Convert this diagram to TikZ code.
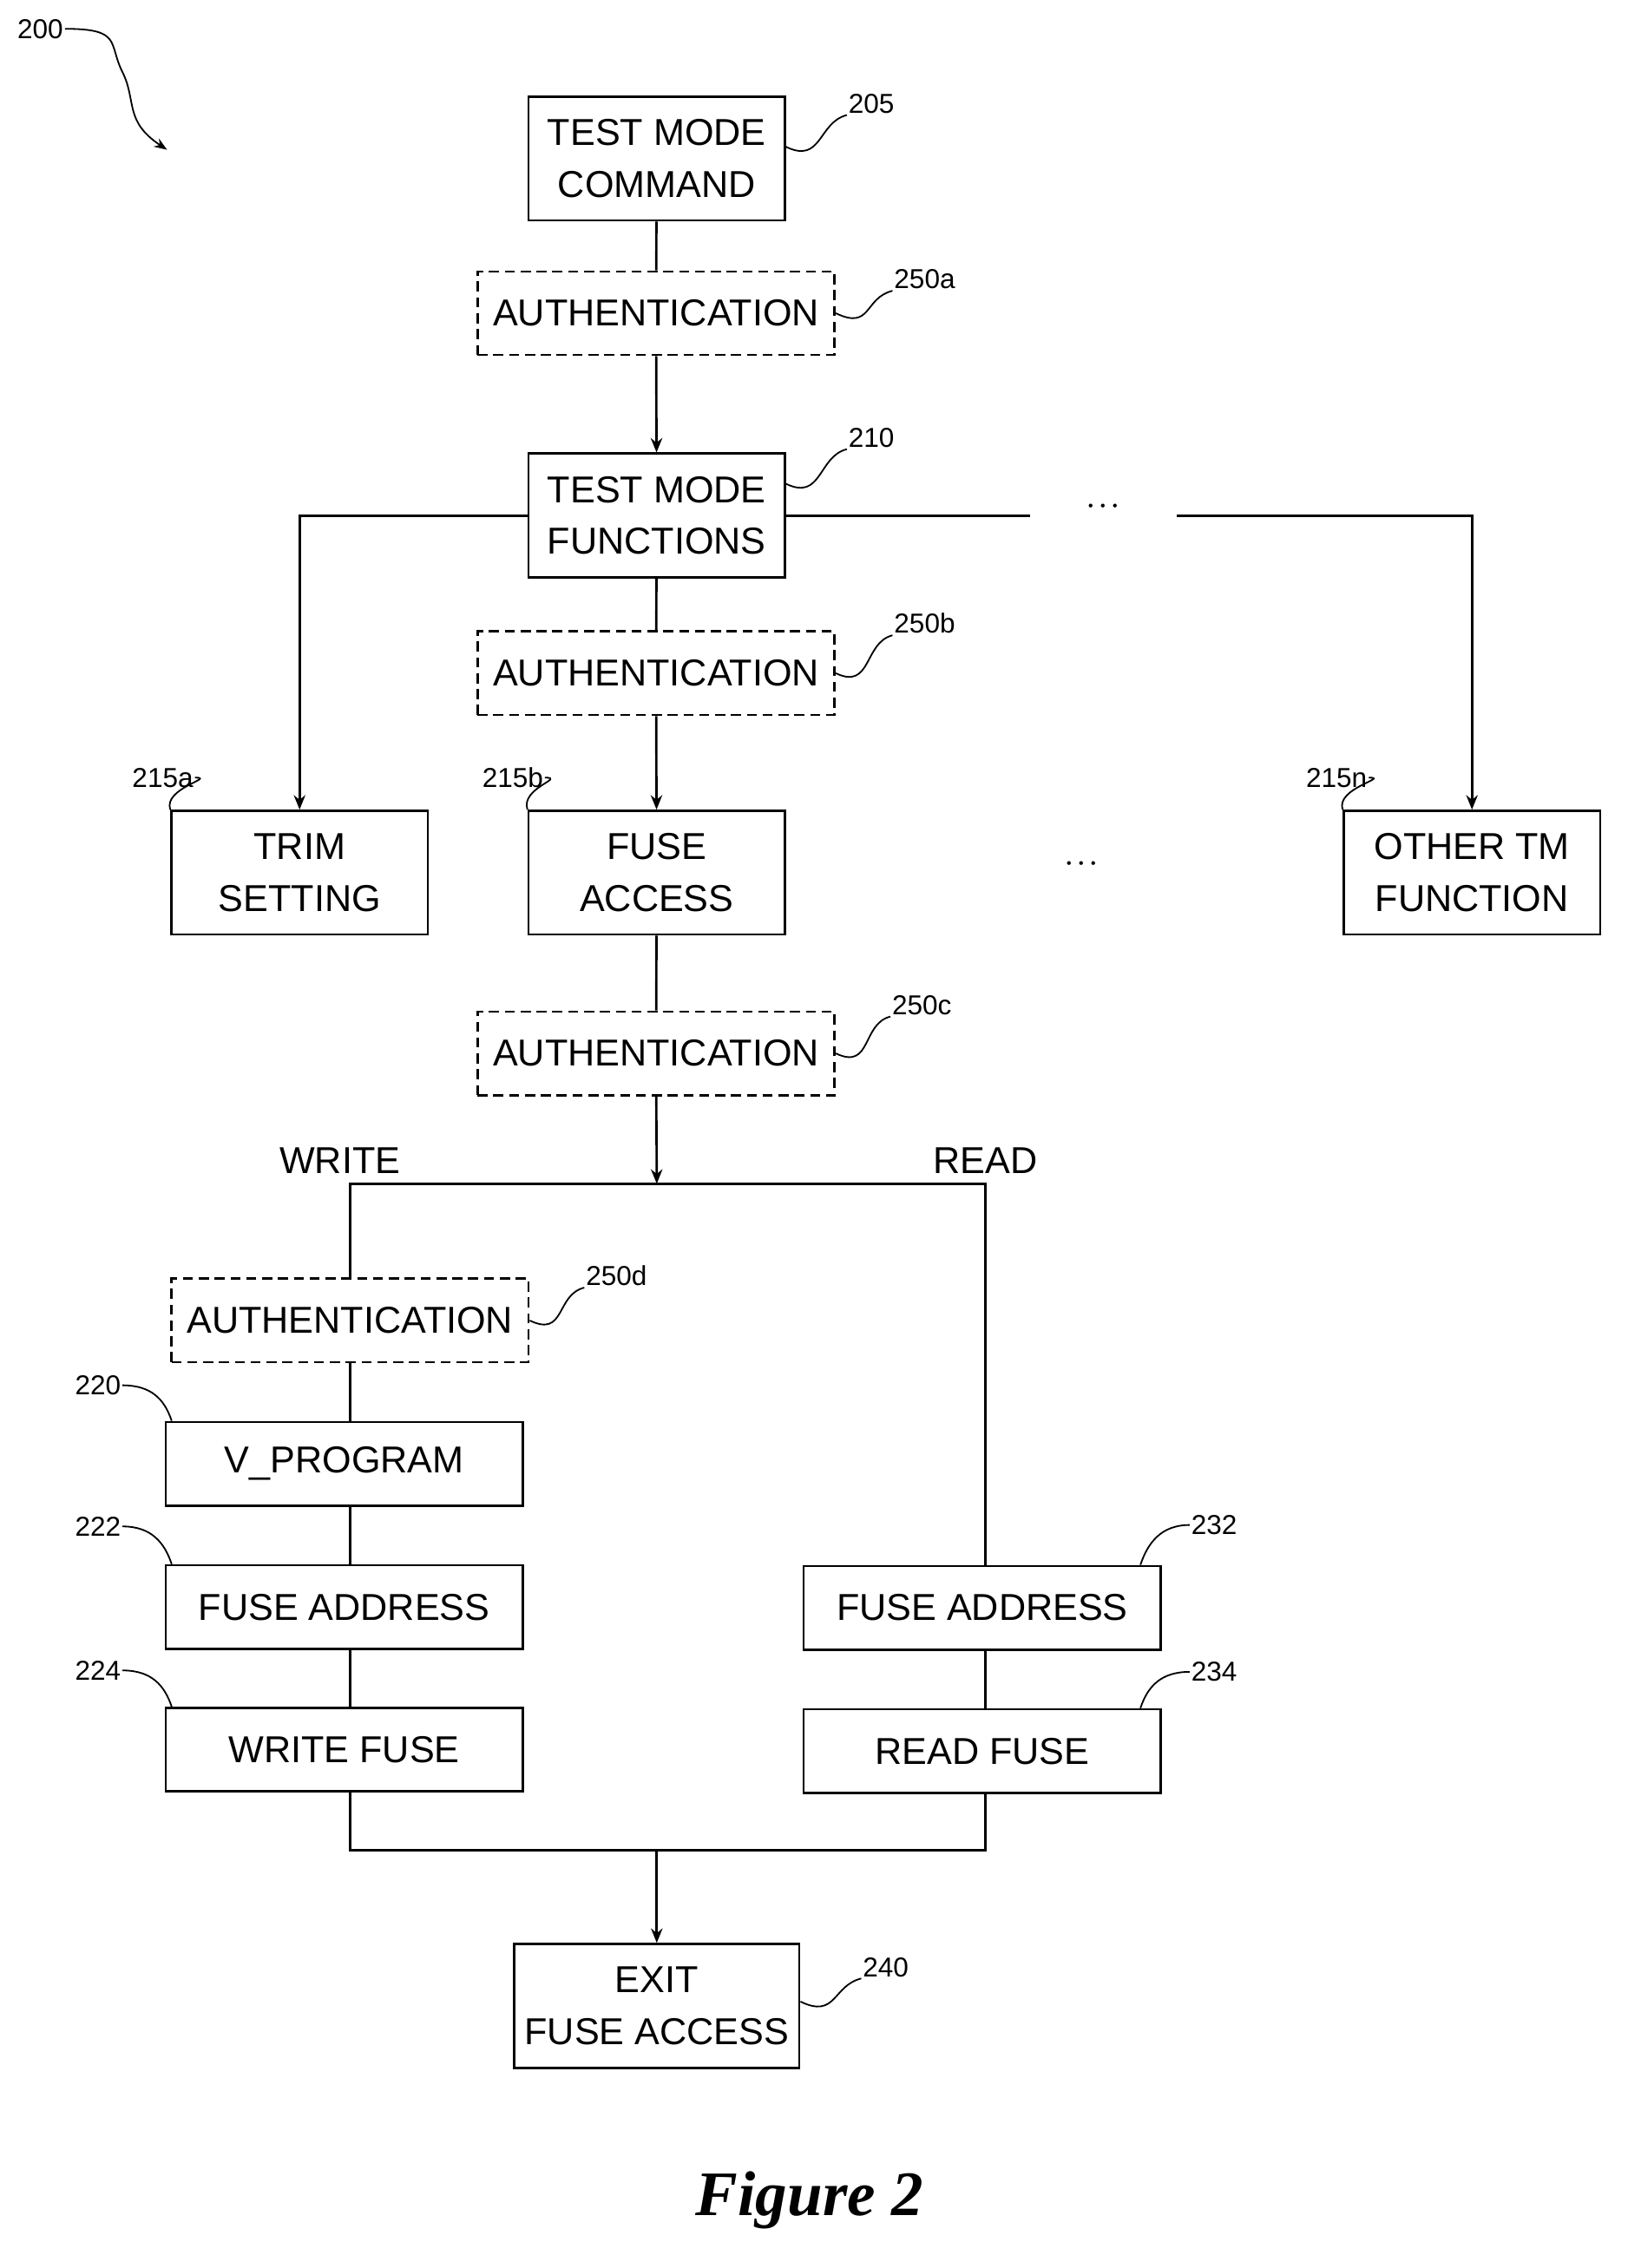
\documentclass[tikz,border=0pt]{standalone}
\usepackage{fontspec}
\setmainfont{Liberation Sans}
\newfontfamily\figfont{Liberation Serif}
\usetikzlibrary{arrows.meta}
\begin{document}
\begin{tikzpicture}[x=1pt,y=-1pt,
  box/.style={draw,line width=1.6pt,minimum height=86pt,align=center,font=\fontsize{26}{36}\selectfont,inner sep=0pt},
  sbox/.style={draw,line width=1.6pt,minimum height=58pt,minimum width=248pt,align=center,font=\fontsize{26}{30}\selectfont,inner sep=0pt},
  auth/.style={sbox,dash pattern=on 7pt off 4pt},
  lab/.style={font=\fontsize{19}{22}\selectfont,inner sep=1pt},
  ln/.style={line width=1.6pt},
  ar/.style={ln,-{Stealth[length=10pt,width=8pt]}},
  lead/.style={line width=1.1pt}]
\useasboundingbox (0,0) rectangle (1130,1575);
\node[box,minimum width=178pt] (b205) at (456,110) {TEST MODE\\COMMAND};
\node[auth] (a250a) at (455.5,217.5) {AUTHENTICATION};
\node[box,minimum width=178pt] (b210) at (456,358) {TEST MODE\\FUNCTIONS};
\node[auth] (a250b) at (455.5,467.5) {AUTHENTICATION};
\node[box,minimum width=178pt] (b215a) at (208,606) {TRIM\\SETTING};
\node[box,minimum width=178pt] (b215b) at (456,606) {FUSE\\ACCESS};
\node[box,minimum width=178pt] (b215n) at (1022,606) {OTHER TM\\FUNCTION};
\node[font=\fontsize{26}{30}\selectfont] (dots2) at (751,600) {$\cdot\!\cdot\!\cdot$};
\node[auth] (a250c) at (455.5,731.5) {AUTHENTICATION};
\node[auth] (a250d) at (243,917) {AUTHENTICATION};
\node[sbox] (b220) at (239,1016.5) {V\_PROGRAM};
\node[sbox] (b222) at (239,1116) {FUSE ADDRESS};
\node[sbox] (b224) at (239,1215) {WRITE FUSE};
\node[sbox] (b232) at (682,1116.5) {FUSE ADDRESS};
\node[sbox] (b234) at (682,1216) {READ FUSE};
\node[box,minimum width=198pt] (b240) at (456,1393) {EXIT\\FUSE ACCESS};
\node[font=\fontsize{26}{30}\selectfont] (tw) at (236,806) {WRITE};
\node[font=\fontsize{26}{30}\selectfont] (tr) at (684,806) {READ};
\node[font=\figfont\bfseries\itshape\fontsize{44}{50}\selectfont] (fig) at (562,1528) {Figure 2};
% connectors
\draw[ln] (b205) -- (a250a);
\draw[ar] (a250a) -- (b210);
\draw[ln] (b210) -- (a250b);
\draw[ar] (a250b) -- (b215b);
\draw[ar] (b210.west) -| (b215a.north);
\coordinate (dl) at (715,358);
\coordinate (dr) at (817,358);
\node[font=\fontsize{26}{30}\selectfont] (dots1) at (766,352) {$\cdot\!\cdot\!\cdot$};
\draw[ln] (b210.east) -- (dl);
\draw[ar] (dr) -| (b215n.north);
\draw[ln] (b215b) -- (a250c);
\coordinate (jw) at (243,822);
\coordinate (jr) at (684,822);
\coordinate (jm) at (456,822);
\draw[ar] (a250c) -- (jm);
\draw[ln] (a250d.north) -- (jw) -- (jr) -- (b232.north-|jr);
\draw[ln] (a250d.south) -- (b220.north-|a250d.south);
\draw[ln] (b220.south-|a250d.south) -- (b222.north-|a250d.south);
\draw[ln] (b222.south-|a250d.south) -- (b224.north-|a250d.south);
\draw[ln] (b232.south-|jr) -- (b234.north-|jr);
\coordinate (bw) at (243,1285);
\coordinate (br) at (684,1285);
\coordinate (bm) at (456,1285);
\draw[ln] (b224.south-|bw) -- (bw) -- (br) -- (b234.south-|br);
\draw[ar] (bm) -- (b240);
% labels
\node[lab] (l205) at (605,72) {205};
\node[lab] (l250a) at (642,194) {250a};
\node[lab] (l210) at (605,304) {210};
\node[lab] (l250b) at (642,433) {250b};
\node[lab] (l250c) at (640,698) {250c};
\node[lab] (l250d) at (428,886) {250d};
\node[lab] (l215a) at (113,540) {215a};
\node[lab] (l215b) at (356,540) {215b};
\node[lab] (l215n) at (928,540) {215n};
\node[lab] (l220) at (68,962) {220};
\node[lab] (l222) at (68,1060) {222};
\node[lab] (l224) at (68,1160) {224};
\node[lab] (l232) at (843,1059) {232};
\node[lab] (l234) at (843,1161) {234};
\node[lab] (l240) at (615,1366) {240};
\node[lab] (l200) at (28,20) {200};
\draw[lead] (b205.east) ++(0,-8) .. controls +(25,12) and +(-20,5) .. (l205.south west);
\draw[lead] (a250a.east) .. controls +(25,12) and +(-20,5) .. (l250a.south west);
\draw[lead] (b210.east) ++(0,-22) .. controls +(25,12) and +(-20,5) .. (l210.south west);
\draw[lead] (a250b.east) .. controls +(25,12) and +(-20,5) .. (l250b.south west);
\draw[lead] (a250c.east) .. controls +(25,12) and +(-20,5) .. (l250c.south west);
\draw[lead] (a250d.east) .. controls +(25,12) and +(-20,5) .. (l250d.south west);
\draw[lead] (l215a.east) .. controls +(15,0) and +(-5,-15) .. (b215a.north west);
\draw[lead] (l215b.east) .. controls +(15,0) and +(-5,-15) .. (b215b.north west);
\draw[lead] (l215n.east) .. controls +(15,0) and +(-5,-15) .. (b215n.north west);
\draw[lead] (l220.east) .. controls +(20,0) and +(-5,-15) .. ([xshift=5pt]b220.north west);
\draw[lead] (l222.east) .. controls +(20,0) and +(-5,-15) .. ([xshift=5pt]b222.north west);
\draw[lead] (l224.east) .. controls +(20,0) and +(-5,-15) .. ([xshift=5pt]b224.north west);
\draw[lead] (l232.west) .. controls +(-20,0) and +(5,-15) .. ([xshift=-15pt]b232.north east);
\draw[lead] (l234.west) .. controls +(-20,0) and +(5,-15) .. ([xshift=-15pt]b234.north east);
\draw[lead] (b240.east) ++(0,-3) .. controls +(25,12) and +(-20,5) .. (l240.south west);
\coordinate (e200) at (116,104);
\draw[lead,-{Stealth[length=9pt]}] (l200.east) .. controls +(40,0) and +(-10,-20) .. (85,50) .. controls +(10,20) and +(-30,-20) .. (e200);
\end{tikzpicture}
\end{document}
